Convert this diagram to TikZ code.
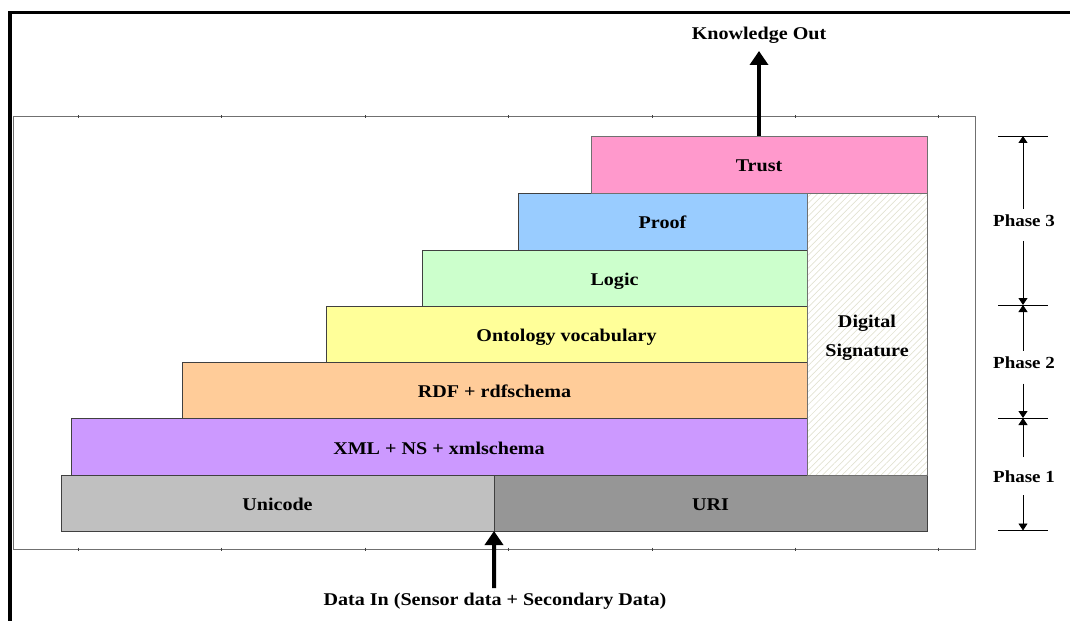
\documentclass[tikz,border=0pt]{standalone}
\usepackage{fontspec}
\setmainfont{Liberation Serif}[FakeStretch=1.12]
\usetikzlibrary{arrows.meta,patterns.meta}

\definecolor{cUnicode}{HTML}{C0C0C0}
\definecolor{cURI}{HTML}{969696}
\definecolor{cXML}{HTML}{CC99FF}
\definecolor{cRDF}{HTML}{FFCC99}
\definecolor{cOnto}{HTML}{FFFF99}
\definecolor{cLogic}{HTML}{CCFFCC}
\definecolor{cProof}{HTML}{99CCFF}
\definecolor{cTrust}{HTML}{FF99CC}
\definecolor{cHatch}{HTML}{E2E2D2}
\definecolor{cEdge}{HTML}{404040}
\definecolor{cFrame}{HTML}{707070}

\tikzset{
  labelfont/.style={font=\fontsize{18}{29}\selectfont\bfseries},
  layer/.style={draw=cEdge, line width=0.8bp, inner sep=0pt, outer sep=0pt,
                labelfont, align=center, text height=15bp, text depth=0bp},
  hatchbox/.style={layer, draw=cFrame,
                   pattern={Lines[angle=45,distance=4.6bp,line width=0.7bp]},
                   pattern color=cHatch},
  bigarrow/.style={line width=4bp, -{Triangle[width=18bp,length=14bp]}},
  phasearrow/.style={line width=0.8bp, -{Triangle[width=9bp,length=7bp]}},
  phaselabel/.style={font=\fontsize{17}{20}\selectfont\bfseries,
                     inner sep=0pt, anchor=base},
  tickline/.style={line width=0.8bp},
}

\begin{document}
\begin{tikzpicture}[x=1bp,y=-1bp]
  \useasboundingbox (0,0) rectangle (1070,621);

  % outer heavy frame (top and left edges)
  \draw[line width=3.5bp] (10,621) -- (10,12.5) -- (1070,12.5);

  % inner light frame with small ticks
  \draw[cFrame, line width=1bp] (13,117) rectangle (975,549);
  \foreach \tx in {78,221.5,365,508,652,795,938} {
    \draw[cEdge, line width=0.8bp] (\tx,115.5) -- (\tx,118.5);
    \draw[cEdge, line width=0.8bp] (\tx,547.5) -- (\tx,550.5);
  }

  % the layer stack
  \node[layer, fill=cUnicode, minimum width=433bp, minimum height=56bp]
    (unicode) at (277.5,503) {Unicode};
  \node[layer, fill=cURI, minimum width=433bp, minimum height=56bp]
    (uri) at (710.5,503) {URI};
  \node[layer, fill=cXML, minimum width=736bp, minimum height=57bp]
    (xml) at (439,446.5) {XML + NS + xmlschema};
  \node[layer, fill=cRDF, minimum width=625bp, minimum height=56bp]
    (rdf) at (494.5,390) {RDF + rdfschema};
  \node[layer, fill=cOnto, minimum width=481bp, minimum height=56bp]
    (onto) at (566.5,334) {Ontology vocabulary};
  \node[layer, fill=cLogic, minimum width=385bp, minimum height=56bp]
    (logic) at (614.5,278) {Logic};
  \node[layer, fill=cProof, minimum width=289bp, minimum height=57bp]
    (proof) at (662.5,221.5) {Proof};
  \node[hatchbox, minimum width=120bp, minimum height=282bp,
        text height=45.6bp, text depth=0bp]
    (digsig) at (867,334) {Digital\\Signature};
  \node[layer, draw=cFrame, fill=cTrust, minimum width=336bp, minimum height=57bp]
    (trust) at (759,164.5) {Trust};

  % output and input
  \coordinate (kouttip) at (759,51);
  \node[labelfont, anchor=base] (kout) at (759,39.5) {Knowledge Out};
  \draw[bigarrow] (trust.north) -- (kouttip);

  \coordinate (dataintail) at (494,588);
  \node[labelfont, anchor=base] (datain) at (495,605) {Data In (Sensor data + Secondary Data)};
  \draw[bigarrow] (dataintail) -- (unicode.south east);

  % phase scale
  \coordinate (p0) at (1023,136);
  \coordinate (p1) at (1023,305);
  \coordinate (p2) at (1023,418);
  \coordinate (p3) at (1023,530.5);
  \foreach \p in {p0,p1,p2,p3}
    \draw[tickline] ([xshift=-25bp]\p) -- ([xshift=25bp]\p);

  \node[phaselabel, text height=17.7bp, text depth=14bp] (ph3) at (1024,226.7) {Phase 3};
  \node[phaselabel, text height=17.5bp, text depth=15bp] (ph2) at (1024,368.3) {Phase 2};
  \node[phaselabel, text height=25bp, text depth=12.7bp] (ph1) at (1024,482.3) {Phase 1};
  \draw[phasearrow] (ph3.north -| p0) -- (p0);
  \draw[phasearrow] (ph3.south -| p1) -- (p1);
  \draw[phasearrow] (ph2.north -| p1) -- (p1);
  \draw[phasearrow] (ph2.south -| p2) -- (p2);
  \draw[phasearrow] (ph1.north -| p2) -- (p2);
  \draw[phasearrow] (ph1.south -| p3) -- (p3);
\end{tikzpicture}
\end{document}
